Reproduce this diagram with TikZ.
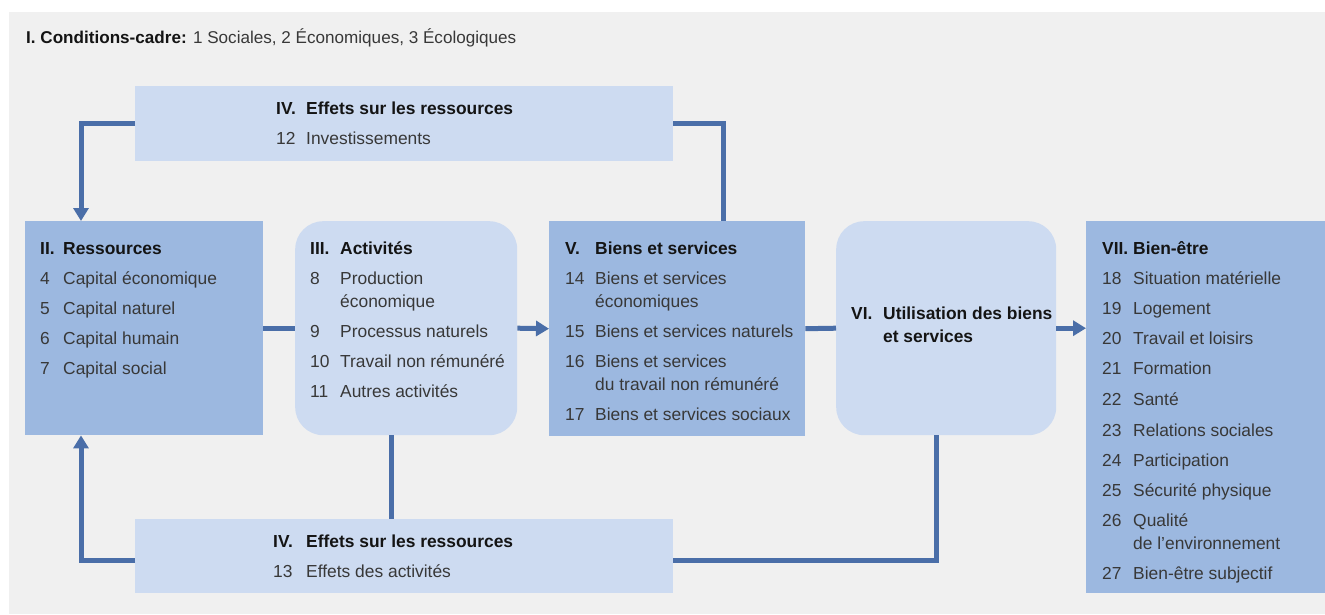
\documentclass[tikz,border=0pt]{standalone}
\usepackage{fontspec}
\setmainfont{Liberation Sans}
\usetikzlibrary{arrows.meta,calc}
\definecolor{bgc}{HTML}{F0F0F0}
\definecolor{darkbox}{HTML}{9CB8E0}
\definecolor{lightbox}{HTML}{CDDBF1}
\definecolor{linec}{HTML}{4A6EA8}
\definecolor{txtc}{HTML}{383838}
\definecolor{hdc}{HTML}{141414}
\begin{document}
\begin{tikzpicture}[x=1pt,y=-1pt,
  boxd/.style={fill=darkbox,draw=none,inner sep=0,anchor=north west},
  boxl/.style={fill=lightbox,draw=none,inner sep=0,anchor=north west},
  rboxl/.style={boxl,rounded corners=28pt},
  txt/.style={anchor=base west,inner sep=0,text=txtc,font=\fontsize{17.4}{20}\selectfont},
  hd/.style={txt,text=hdc,font=\fontsize{17.4}{20}\selectfont\bfseries},
  conn/.style={draw=linec,line width=5pt},
  arr/.style={conn,-{Triangle[width=15pt,length=13pt]}}]
\useasboundingbox (0,0) rectangle (1325,614);
\fill[white] (0,0) rectangle (1325,614);
\fill[bgc] (9,12) rectangle (1325,614);

% header
\node[txt,font=\fontsize{17.1}{20}\selectfont] (hdr) at (26,43) {\textcolor{hdc}{\bfseries I. Conditions-cadre:} 1 Sociales, 2 Économiques, 3 Écologiques};

% boxes
\node[boxl,minimum width=538pt,minimum height=75pt] (top) at (135,86) {};
\node[boxd,minimum width=238pt,minimum height=214pt] (res) at (25,221) {};
\node[rboxl,minimum width=222pt,minimum height=214pt] (act) at (295,221) {};
\node[boxd,minimum width=256pt,minimum height=215pt] (bs) at (549,221) {};
\node[rboxl,minimum width=220pt,minimum height=214pt] (use) at (836,221) {};
\node[boxd,minimum width=239pt,minimum height=372pt] (wb) at (1086,221) {};
\node[boxl,minimum width=538pt,minimum height=74pt] (bot) at (135,519) {};

% top IV
\node[hd] (t4n) at (276,114) {IV.};
\node[hd] (t4h) at (306,114) {Effets sur les ressources};
\node[txt] (t12n) at (276,144) {12};
\node[txt] (t12) at (306,144) {Investissements};

% II
\node[hd] (r2n) at (40,254) {II.};
\node[hd] (r2h) at (63,254) {Ressources};
\node[txt] (r4n) at (40,284) {4};
\node[txt] (r4) at (63,284) {Capital économique};
\node[txt] (r5n) at (40,314) {5};
\node[txt] (r5) at (63,314) {Capital naturel};
\node[txt] (r6n) at (40,344) {6};
\node[txt] (r6) at (63,344) {Capital humain};
\node[txt] (r7n) at (40,374) {7};
\node[txt] (r7) at (63,374) {Capital social};

% III
\node[hd] (a3n) at (310,254) {III.};
\node[hd] (a3h) at (340,254) {Activités};
\node[txt] (a8n) at (310,284) {8};
\node[txt] (a8) at (340,284) {Production};
\node[txt] (a8b) at (340,307) {économique};
\node[txt] (a9n) at (310,337) {9};
\node[txt] (a9) at (340,337) {Processus naturels};
\node[txt] (a10n) at (310,367) {10};
\node[txt] (a10) at (340,367) {Travail non rémunéré};
\node[txt] (a11n) at (310,397) {11};
\node[txt] (a11) at (340,397) {Autres activités};

% V
\node[hd] (b5n) at (565,254) {V.};
\node[hd] (b5h) at (595,254) {Biens et services};
\node[txt] (b14n) at (565,284) {14};
\node[txt] (b14) at (595,284) {Biens et services};
\node[txt] (b14b) at (595,307) {économiques};
\node[txt] (b15n) at (565,337) {15};
\node[txt] (b15) at (595,337) {Biens et services naturels};
\node[txt] (b16n) at (565,367) {16};
\node[txt] (b16) at (595,367) {Biens et services};
\node[txt] (b16b) at (595,390) {du travail non rémunéré};
\node[txt] (b17n) at (565,420) {17};
\node[txt] (b17) at (595,420) {Biens et services sociaux};

% VI
\node[hd] (u6n) at (851,319) {VI.};
\node[hd] (u6h) at (883,319) {Utilisation des biens};
\node[hd] (u6b) at (883,342) {et services};

% VII
\node[hd] (w7n) at (1102,254) {VII.};
\node[hd] (w7h) at (1133,254) {Bien-être};
\node[txt] (w18n) at (1102,284) {18};
\node[txt] (w18) at (1133,284) {Situation matérielle};
\node[txt] (w19n) at (1102,314) {19};
\node[txt] (w19) at (1133,314) {Logement};
\node[txt] (w20n) at (1102,344) {20};
\node[txt] (w20) at (1133,344) {Travail et loisirs};
\node[txt] (w21n) at (1102,374) {21};
\node[txt] (w21) at (1133,374) {Formation};
\node[txt] (w22n) at (1102,405) {22};
\node[txt] (w22) at (1133,405) {Santé};
\node[txt] (w23n) at (1102,436) {23};
\node[txt] (w23) at (1133,436) {Relations sociales};
\node[txt] (w24n) at (1102,466) {24};
\node[txt] (w24) at (1133,466) {Participation};
\node[txt] (w25n) at (1102,496) {25};
\node[txt] (w25) at (1133,496) {Sécurité physique};
\node[txt] (w26n) at (1102,526) {26};
\node[txt] (w26) at (1133,526) {Qualité};
\node[txt] (w26b) at (1133,549) {de l’environnement};
\node[txt] (w27n) at (1102,579) {27};
\node[txt] (w27) at (1133,579) {Bien-être subjectif};

% bottom IV
\node[hd] (d4n) at (273,547) {IV.};
\node[hd] (d4h) at (306,547) {Effets sur les ressources};
\node[txt] (d13n) at (273,577) {13};
\node[txt] (d13) at (306,577) {Effets des activités};

% connectors
\draw[arr] (top.west) -| ($(res.north west)+(56,0)$);
\draw[conn] (top.east) -| ($(bs.north west)+(174,0)$);
\draw[conn] (res.east) -- (act.west);
\draw[arr] (act.east) -- (bs.west);
\draw[conn] (bs.east) -- (use.west);
\draw[arr] (use.east) -- (wb.west |- use.east);
\coordinate (p3) at ($(act.south west)+(96,0)$);
\draw[conn] (p3) -- (p3 |- bot.north);
\draw[conn] ($(use.south west)+(100,0)$) |- ($(bot.east)+(0,4)$);
\draw[arr] ($(bot.west)+(0,4)$) -| ($(res.south west)+(56,0)$);
\end{tikzpicture}
\end{document}
